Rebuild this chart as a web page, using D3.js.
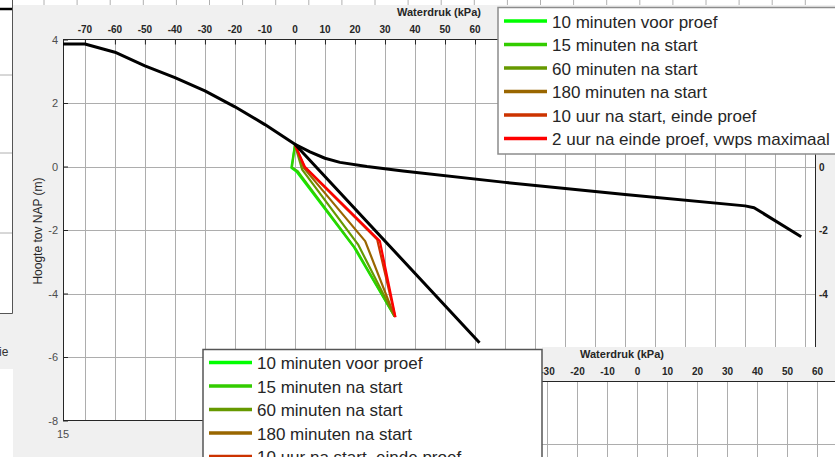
<!DOCTYPE html>
<html>
<head>
<meta charset="utf-8">
<script src="https://cdn.jsdelivr.net/npm/d3@7/dist/d3.min.js"></script>
<style>
  body { margin: 0; background: #fff; }
  svg text { font-family: "Liberation Sans", Arial, sans-serif; }
</style>
</head>
<body>
<div class="chart"></div>
<script>
// tick values
var xTicks = d3.range(-70, 171, 10);
var xLabels = d3.range(-70, 61, 10);   // the rest sits under the legend
var yTicks = [4, 2, 0, -2, -4, -6, -8];
var rightTicks = [0, -2, -4];
var lowerTicks = [-30, -20, -10, 0, 10, 20, 30, 40, 50, 60];

// legend entries
var seriesNames = ["10 minuten voor proef", "15 minuten na start", "60 minuten na start",
                   "180 minuten na start", "10 uur na start, einde proef", "2 uur na einde proef, vwps maximaal"];
var seriesColors = ["#00ff00", "#33cc00", "#669900", "#996600", "#cc3300", "#ff0000"];

// measured waterdruk (kPa) and hoogte (m), one list per series
var seriesKpa = [
  [0, -1.2, 0.5, 19.5, 33.2],
  [0, -1.0, 0.9, 20.3, 33.2],
  [0, 2.4, 21.0, 33.2],
  [0, 3.0, 23.4, 33.2],
  [0, 3.2, 27.4, 33.4],
  [0, 3.3, 28.3, 33.5]
];
var seriesM = [
  [0.68, -0.04, -0.16, -2.52, -4.72],
  [0.68, -0.03, -0.15, -2.6, -4.72],
  [0.68, -0.1, -2.45, -4.72],
  [0.68, -0.05, -2.35, -4.72],
  [0.68, -0.02, -2.3, -4.74],
  [0.68, -0.01, -2.35, -4.75]
];

// black reference lines
var hydroKpa = [-77.3, -70, -60, -50, -40, -30, -20, -10, 0, 61.5];
var hydroM   = [3.86, 3.86, 3.6, 3.17, 2.8, 2.38, 1.88, 1.32, 0.7, -5.55];
var upperKpa = [0, 5, 10, 15, 24, 36, 70, 110, 150, 153, 168.7];
var upperM   = [0.7, 0.46, 0.26, 0.13, 0.0, -0.14, -0.5, -0.88, -1.24, -1.3, -2.21];

var W = 835, H = 457;
var plot = {left: 63, right: 815, top: 39.5, bottom: 420.5};

var svg = d3.select(".chart").append("svg")
    .attr("width", W)
    .attr("height", H);

// ---- windows behind the main figure ----
svg.append("rect").attr("x", 0).attr("y", 0).attr("width", W).attr("height", H).attr("fill", "#fff");
svg.append("rect").attr("x", 13).attr("y", 5).attr("width", W - 13).attr("height", H - 5).attr("fill", "#f0f0f0");
svg.append("rect").attr("x", 0).attr("y", 313).attr("width", 13).attr("height", 56).attr("fill", "#f0f0f0");

var behind = svg.append("g");
d3.range(44, 835, 33.1).forEach(function(gx) {
  behind.append("line").attr("x1", gx).attr("x2", gx).attr("y1", 0).attr("y2", 5)
    .attr("stroke", "#b0b0b0");
});
[75, 153, 233].forEach(function(gy) {
  behind.append("line").attr("x1", 0).attr("x2", 12).attr("y1", gy).attr("y2", gy)
    .attr("stroke", "#b0b0b0");
});
behind.append("line").attr("x1", 0).attr("x2", 12).attr("y1", 9).attr("y2", 9)
  .attr("stroke", "#000").attr("stroke-width", 2.5);
behind.append("path").attr("d", "M12.5,0V313.5H0").attr("fill", "none").attr("stroke", "#555");
behind.append("text").attr("x", -1).attr("y", 356).attr("font-size", 12).attr("fill", "#333").text("ie");

// ---- main axes ----
var x = d3.scaleLinear().domain([-77.3, 173.3]).range([plot.left, plot.right]);
var y = d3.scaleLinear().domain([-8, 4]).range([plot.bottom, plot.top]);

svg.append("rect")
  .attr("x", plot.left).attr("y", plot.top)
  .attr("width", plot.right - plot.left).attr("height", plot.bottom - plot.top)
  .attr("fill", "#fff");

var grid = svg.append("g");
grid.selectAll(".vgrid").data(xTicks).enter().append("line")
  .attr("x1", function(d) { return Math.round(x(d)) + 0.5; })
  .attr("x2", function(d) { return Math.round(x(d)) + 0.5; })
  .attr("y1", plot.top).attr("y2", plot.bottom)
  .attr("stroke", "#adadad");
grid.selectAll(".hgrid").data(yTicks.slice(1, -1)).enter().append("line")
  .attr("x1", plot.left).attr("x2", plot.right)
  .attr("y1", function(d) { return Math.round(y(d)) + 0.5; })
  .attr("y2", function(d) { return Math.round(y(d)) + 0.5; })
  .attr("stroke", "#adadad");

// top axis with ticks inside
var xAxis = svg.append("g")
  .attr("transform", "translate(0," + plot.top + ")")
  .call(d3.axisBottom(x).tickValues(xTicks).tickSize(5).tickFormat(""));
xAxis.select(".domain").remove();
xAxis.selectAll("line").attr("stroke", "#262626");

svg.selectAll(".xlab").data(xLabels).enter().append("text")
  .attr("x", function(d) { return x(d); })
  .attr("y", 33)
  .attr("text-anchor", "middle")
  .attr("font-size", 10).attr("font-weight", "bold").attr("fill", "#262626")
  .text(function(d) { return d; });

svg.append("text")
  .attr("x", (plot.left + plot.right) / 2).attr("y", 16)
  .attr("text-anchor", "middle")
  .attr("font-size", 11).attr("font-weight", "bold").attr("fill", "#262626")
  .text("Waterdruk (kPa)");

var yAxis = svg.append("g")
  .attr("transform", "translate(" + plot.left + ",0)")
  .call(d3.axisRight(y).tickValues(yTicks).tickSize(5).tickFormat(""));
yAxis.select(".domain").remove();
yAxis.selectAll("line").attr("stroke", "#262626");

svg.selectAll(".ylab").data(yTicks).enter().append("text")
  .attr("x", 58)
  .attr("y", function(d) { return y(d) + 4; })
  .attr("text-anchor", "end")
  .attr("font-size", 11).attr("fill", "#4d4d4d")
  .text(function(d) { return d; });

svg.append("text")
  .attr("transform", "translate(42,231) rotate(-90)")
  .attr("text-anchor", "middle")
  .attr("font-size", 12).attr("fill", "#262626")
  .text("Hoogte tov NAP (m)");

svg.selectAll(".rlab").data(rightTicks).enter().append("text")
  .attr("x", 819)
  .attr("y", function(d) { return y(d) + 4; })
  .attr("font-size", 10).attr("font-weight", "bold").attr("fill", "#262626")
  .text(function(d) { return d; });

svg.append("text").attr("x", 63).attr("y", 438).attr("text-anchor", "middle")
  .attr("font-size", 11).attr("fill", "#4d4d4d").text("15");

// box
svg.append("rect")
  .attr("x", plot.left + 0.5).attr("y", plot.top)
  .attr("width", plot.right - plot.left).attr("height", plot.bottom - plot.top)
  .attr("fill", "none").attr("stroke", "#262626");

// ---- lines ----
var line = d3.line()
  .x(function(d) { return x(d[0]); })
  .y(function(d) { return y(d[1]); });

seriesKpa.forEach(function(ks, i) {
  var pts = ks.map(function(k, j) { return [k, seriesM[i][j]]; });
  svg.append("path").datum(pts)
    .attr("d", line)
    .attr("fill", "none")
    .attr("stroke", seriesColors[i])
    .attr("stroke-width", 2.2)
    .attr("stroke-linejoin", "round");
});

[[hydroKpa, hydroM], [upperKpa, upperM]].forEach(function(s) {
  var pts = s[0].map(function(k, j) { return [k, s[1][j]]; });
  svg.append("path").datum(pts)
    .attr("d", line)
    .attr("fill", "none")
    .attr("stroke", "#000")
    .attr("stroke-width", 3)
    .attr("stroke-linejoin", "round");
});

// ---- legend ----
function legend(x0, y0, w, h, rows, rowH, border) {
  var g = svg.append("g");
  g.append("rect").attr("x", x0).attr("y", y0).attr("width", w).attr("height", h)
    .attr("fill", "#fff").attr("stroke", border).attr("stroke-width", 1.5);
  seriesNames.forEach(function(name, i) {
    var ly = rows + i * rowH;
    g.append("line")
      .attr("x1", x0 + 6).attr("x2", x0 + 49)
      .attr("y1", ly).attr("y2", ly)
      .attr("stroke", seriesColors[i]).attr("stroke-width", 3.5);
    g.append("text")
      .attr("x", x0 + 54).attr("y", ly + 6.5)
      .attr("font-size", 17).attr("fill", "#262626")
      .text(name);
  });
}
legend(498, 7.5, 350, 146.5, 21, 23.5, "#8c8c8c");

// ---- lower right window ----
var lw = svg.append("g");
lw.append("rect").attr("x", 542).attr("y", 347).attr("width", 293).attr("height", 110).attr("fill", "#f0f0f0");
lw.append("rect").attr("x", 542).attr("y", 381).attr("width", 293).attr("height", 76).attr("fill", "#fff");
var x2 = d3.scaleLinear().domain([0, 10]).range([637.5, 667.5]);
lowerTicks.forEach(function(t) {
  lw.append("line").attr("x1", x2(t)).attr("x2", x2(t)).attr("y1", 381).attr("y2", 457)
    .attr("stroke", "#adadad");
  lw.append("text").attr("x", x2(t)).attr("y", 375).attr("text-anchor", "middle")
    .attr("font-size", 10).attr("font-weight", "bold").attr("fill", "#262626").text(t);
});
lw.append("line").attr("x1", 542).attr("x2", 835).attr("y1", 444.5).attr("y2", 444.5).attr("stroke", "#adadad");
lw.append("line").attr("x1", 542).attr("x2", 835).attr("y1", 381.5).attr("y2", 381.5).attr("stroke", "#262626");
lw.append("text").attr("x", 622).attr("y", 358).attr("text-anchor", "middle")
  .attr("font-size", 11).attr("font-weight", "bold").attr("fill", "#262626").text("Waterdruk (kPa)");

// lower legend of the other window
legend(203, 349.5, 339, 130, 362.5, 23.5, "#555");
</script>
</body>
</html>
